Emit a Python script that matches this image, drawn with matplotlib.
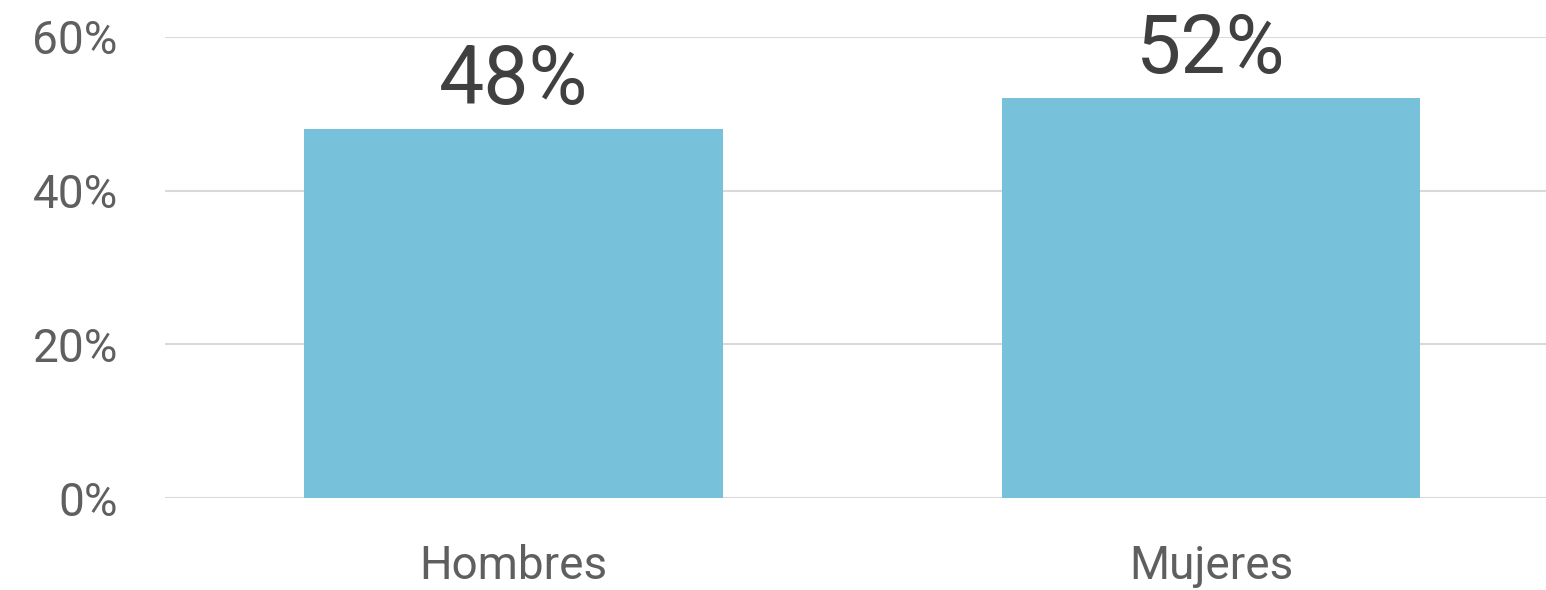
import matplotlib
matplotlib.use("Agg")
import matplotlib.pyplot as plt

categories = ["Hombres", "Mujeres"]
values = [48, 52]
yticks = [0, 20, 40, 60]
ytick_labels = ["0%", "20%", "40%", "60%"]

plt.rcParams['font.family'] = ['Roboto', 'DejaVu Sans']

fig = plt.figure(figsize=(15.46, 5.90), dpi=100)
ax = fig.add_axes([165/1546, 1 - 498/590, (1546-165)/1546, (498-37)/590])

x = list(range(len(categories)))
ax.bar(x, values, width=0.6, color="#77c1db", zorder=3)
for xi, v in zip(x, values):
    ax.text(xi, v + 3.25, f"{v}%", ha="center", va="baseline", fontsize=58,
            color="#404040", fontweight="normal")

ax.set_xlim(-0.4996, 1.480)
ax.set_ylim(0, 60)
ax.set_yticks(yticks)
ax.set_yticklabels(ytick_labels)
ax.set_xticks(x)
ax.set_xticklabels(categories)
ax.yaxis.grid(True, color="#d9d9d9", linewidth=1.5, zorder=0)
for s in ax.spines.values():
    s.set_visible(False)
ax.tick_params(axis="both", length=0, labelsize=33, labelcolor="#5f5f5f")
ax.tick_params(axis="y", pad=34)
ax.tick_params(axis="x", pad=33)
for lab in ax.get_xticklabels() + ax.get_yticklabels():
    lab.set_fontweight("normal")

fig.savefig("out.png", dpi=100)
